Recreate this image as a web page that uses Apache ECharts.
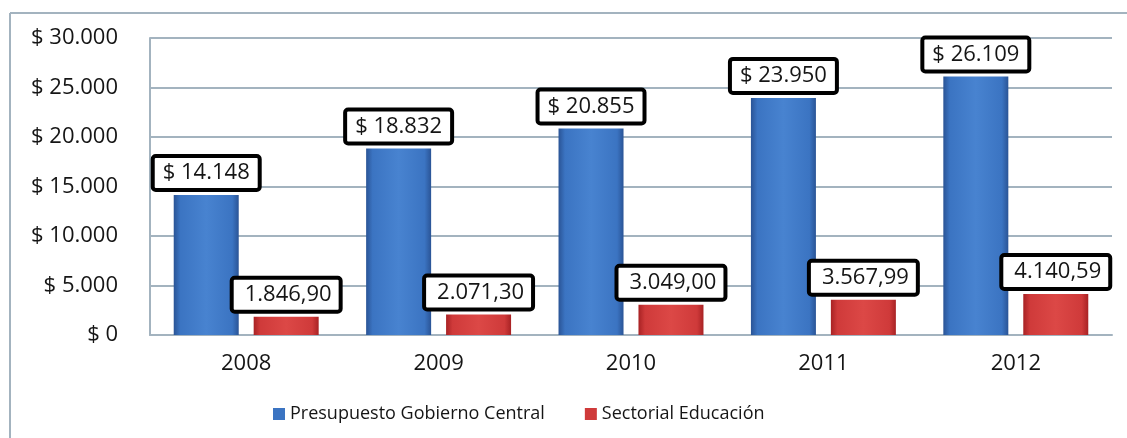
<!DOCTYPE html>
<html>
<head>
<meta charset="utf-8">
<script src="https://cdn.jsdelivr.net/npm/echarts@6/dist/echarts.min.js"></script>
<style>
html,body{margin:0;padding:0;background:#fff;}
#chart{width:1127px;height:438px;}
</style>
</head>
<body>
<div id="chart"></div>
<script>
const categories = ['2008', '2009', '2010', '2011', '2012'];
const gobiernoCentral = [14148, 18832, 20855, 23950, 26109];
const sectorialEducacion = [1846.90, 2071.30, 3049.00, 3567.99, 4140.59];
const seriesNames = ['Presupuesto Gobierno Central', 'Sectorial Educación'];

function thousands(n) {
  return String(Math.round(n)).replace(/\B(?=(\d{3})+(?!\d))/g, '.');
}
function decimalEs(n) {
  const parts = n.toFixed(2).split('.');
  return parts[0].replace(/\B(?=(\d{3})+(?!\d))/g, '.') + ',' + parts[1];
}

const FONT = 'Open Sans';
const TEXT = '#151515';
const blueGrad = new echarts.graphic.LinearGradient(0, 0, 1, 0, [
  {offset: 0, color: '#2a5496'},
  {offset: 0.1, color: '#3b74c2'},
  {offset: 0.5, color: '#4883d0'},
  {offset: 0.9, color: '#3b74c2'},
  {offset: 1, color: '#2a5496'}
]);
const redGrad = new echarts.graphic.LinearGradient(0, 0, 1, 0, [
  {offset: 0, color: '#a82224'},
  {offset: 0.1, color: '#cf3a3a'},
  {offset: 0.5, color: '#dc4846'},
  {offset: 0.9, color: '#cf3a3a'},
  {offset: 1, color: '#a82224'}
]);

const labelBase = {
  show: true,
  position: 'top',
  distance: 7,
  color: TEXT,
  fontFamily: FONT,
  fontSize: 22,
  backgroundColor: '#fff',
  borderColor: '#000',
  borderWidth: 4,
  borderRadius: 1
};

const chart = echarts.init(document.getElementById('chart'), null, {renderer: 'canvas'});
chart.setOption({
  animation: false,
  backgroundColor: '#fff',
  graphic: [
    {type: 'line', shape: {x1: 10, y1: 13, x2: 1127, y2: 13}, style: {stroke: '#a3b3bf', lineWidth: 2}},
    {type: 'line', shape: {x1: 10, y1: 13, x2: 10, y2: 438}, style: {stroke: '#a3b3bf', lineWidth: 2}}
  ],
  grid: {left: 150, right: 15, top: 38, bottom: 103, containLabel: false},
  legend: {
    data: [
      {name: seriesNames[0], itemStyle: {color: '#3b74c2'}},
      {name: seriesNames[1], itemStyle: {color: '#cf3a3a'}}
    ],
    top: 400,
    left: 268,
    itemWidth: 12,
    itemHeight: 12,
    itemGap: 40,
    icon: 'rect',
    textStyle: {fontFamily: FONT, fontSize: 18, color: TEXT}
  },
  xAxis: {
    type: 'category',
    data: categories,
    axisLine: {lineStyle: {color: '#a3b3bf', width: 2}},
    axisTick: {show: false},
    axisLabel: {fontFamily: FONT, fontSize: 22, color: TEXT, margin: 18}
  },
  yAxis: {
    type: 'value',
    min: 0,
    max: 30000,
    interval: 5000,
    axisLine: {show: true, lineStyle: {color: '#a3b3bf', width: 2}},
    axisTick: {show: false},
    splitLine: {lineStyle: {color: '#a3b3bf', width: 2}},
    axisLabel: {
      fontFamily: FONT, fontSize: 22, color: TEXT, margin: 32,
      formatter: v => '$ ' + thousands(v)
    }
  },
  series: [
    {
      name: seriesNames[0],
      type: 'bar',
      data: gobiernoCentral,
      barWidth: 65,
      barGap: '23%',
      itemStyle: {color: blueGrad},
      label: Object.assign({}, labelBase, {
        padding: [4, 8, 4, 8],
        formatter: p => '$ ' + thousands(p.value)
      })
    },
    {
      name: seriesNames[1],
      type: 'bar',
      data: sectorialEducacion,
      barWidth: 65,
      barGap: '23%',
      itemStyle: {color: redGrad},
      label: Object.assign({}, labelBase, {
        padding: [4, 7, 4, 11],
        formatter: p => decimalEs(p.value)
      })
    }
  ]
});
</script>
</body>
</html>
